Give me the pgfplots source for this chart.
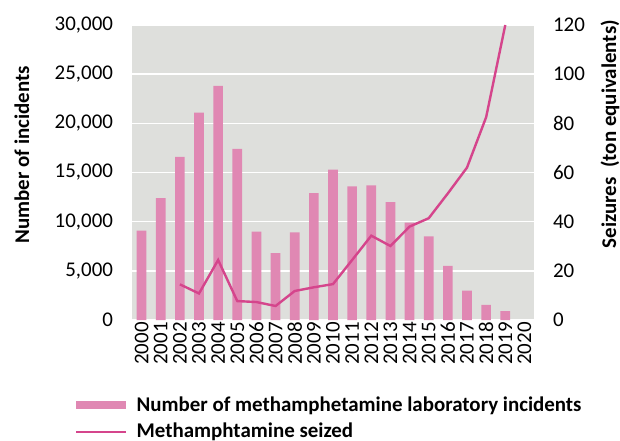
\documentclass[border=0pt]{standalone}
\usepackage{fontspec}
\setmainfont{Carlito}
\usepackage{pgfplots}
\pgfplotsset{compat=1.18}
\definecolor{barpink}{HTML}{E088B3}
\definecolor{linepink}{HTML}{D5458C}
\definecolor{bggray}{HTML}{DEDFDC}
\begin{document}
\begin{tikzpicture}
\path[use as bounding box] (-66bp,-60.5bp) rectangle (244bp,160bp);
\begin{axis}[
  width=201bp, height=147.5bp, scale only axis,
  xmin=-0.5, xmax=20.5,
  ymin=0, ymax=30000,
  xtick={0,...,20},
  xticklabels={2000,2001,2002,2003,2004,2005,2006,2007,2008,2009,2010,2011,2012,2013,2014,2015,2016,2017,2018,2019,2020},
  x tick label style={rotate=90, anchor=east, inner sep=1bp},
  ytick={0,5000,...,30000},
  scaled y ticks=false,
  y tick label style={/pgf/number format/1000 sep={,}, xshift=-6bp},
  /pgf/number format/assume math mode=true,
  major tick length=0pt,
  axis line style={draw=none},
  axis background/.style={fill=bggray},
  ymajorgrids, grid style={white, line width=0.8bp},
  font=\fontsize{10.5}{12}\selectfont,
  ylabel={\bfseries Number of incidents},
  ylabel style={at={(axis description cs:-0.274,0.56)}, anchor=center},
  legend style={at={(axis description cs:-0.142,-0.245)}, anchor=north west,
    draw=none, fill=none, inner sep=0pt, row sep=0.5bp,
    font=\fontsize{10.5}{12}\selectfont\bfseries},
  legend cell align=left,
]
\addplot[ybar, bar width=4.85bp, fill=barpink, draw=none,
  legend image code/.code={\fill[barpink] (0bp,-2bp) rectangle (25bp,2bp); \path (28bp,0bp);}]
  coordinates {
  (0,9100) (1,12400) (2,16600) (3,21100) (4,23800) (5,17400) (6,9000)
  (7,6800) (8,8900) (9,12900) (10,15300) (11,13600) (12,13700) (13,12000)
  (14,9900) (15,8500) (16,5500) (17,3000) (18,1550) (19,900)
  };
\addlegendentry{Number of methamphetamine laboratory incidents}
\addlegendimage{legend image code/.code={\draw[linepink, line width=1bp] (0bp,0bp) -- (25bp,0bp); \path (28bp,0bp);}}
\addlegendentry{Methamphtamine seized}
\end{axis}
\begin{axis}[
  width=201bp, height=147.5bp, scale only axis,
  xmin=-0.5, xmax=20.5,
  ymin=0, ymax=120,
  axis y line*=right, axis x line=none,
  ytick={0,20,...,120},
  y tick label style={xshift=6bp},
  /pgf/number format/assume math mode=true,
  major tick length=0pt,
  axis line style={draw=none},
  font=\fontsize{10.5}{12}\selectfont,
  ylabel={\bfseries Seizures~ (ton equivalents)},
  ylabel style={at={(axis description cs:1.189,0.63)}, anchor=center, rotate=0},
  clip=false,
]
\addplot[linepink, line width=1.2bp, mark=none] coordinates {
  (2,14.5) (3,10.8) (4,24.4) (5,7.7) (6,7.3) (7,5.7) (8,11.8) (9,13.3)
  (10,14.6) (11,24.4) (12,34.3) (13,30.1) (14,38) (15,41.4) (16,51.5)
  (17,62) (18,82.5) (19,120)
  };
\end{axis}
\end{tikzpicture}
\end{document}
